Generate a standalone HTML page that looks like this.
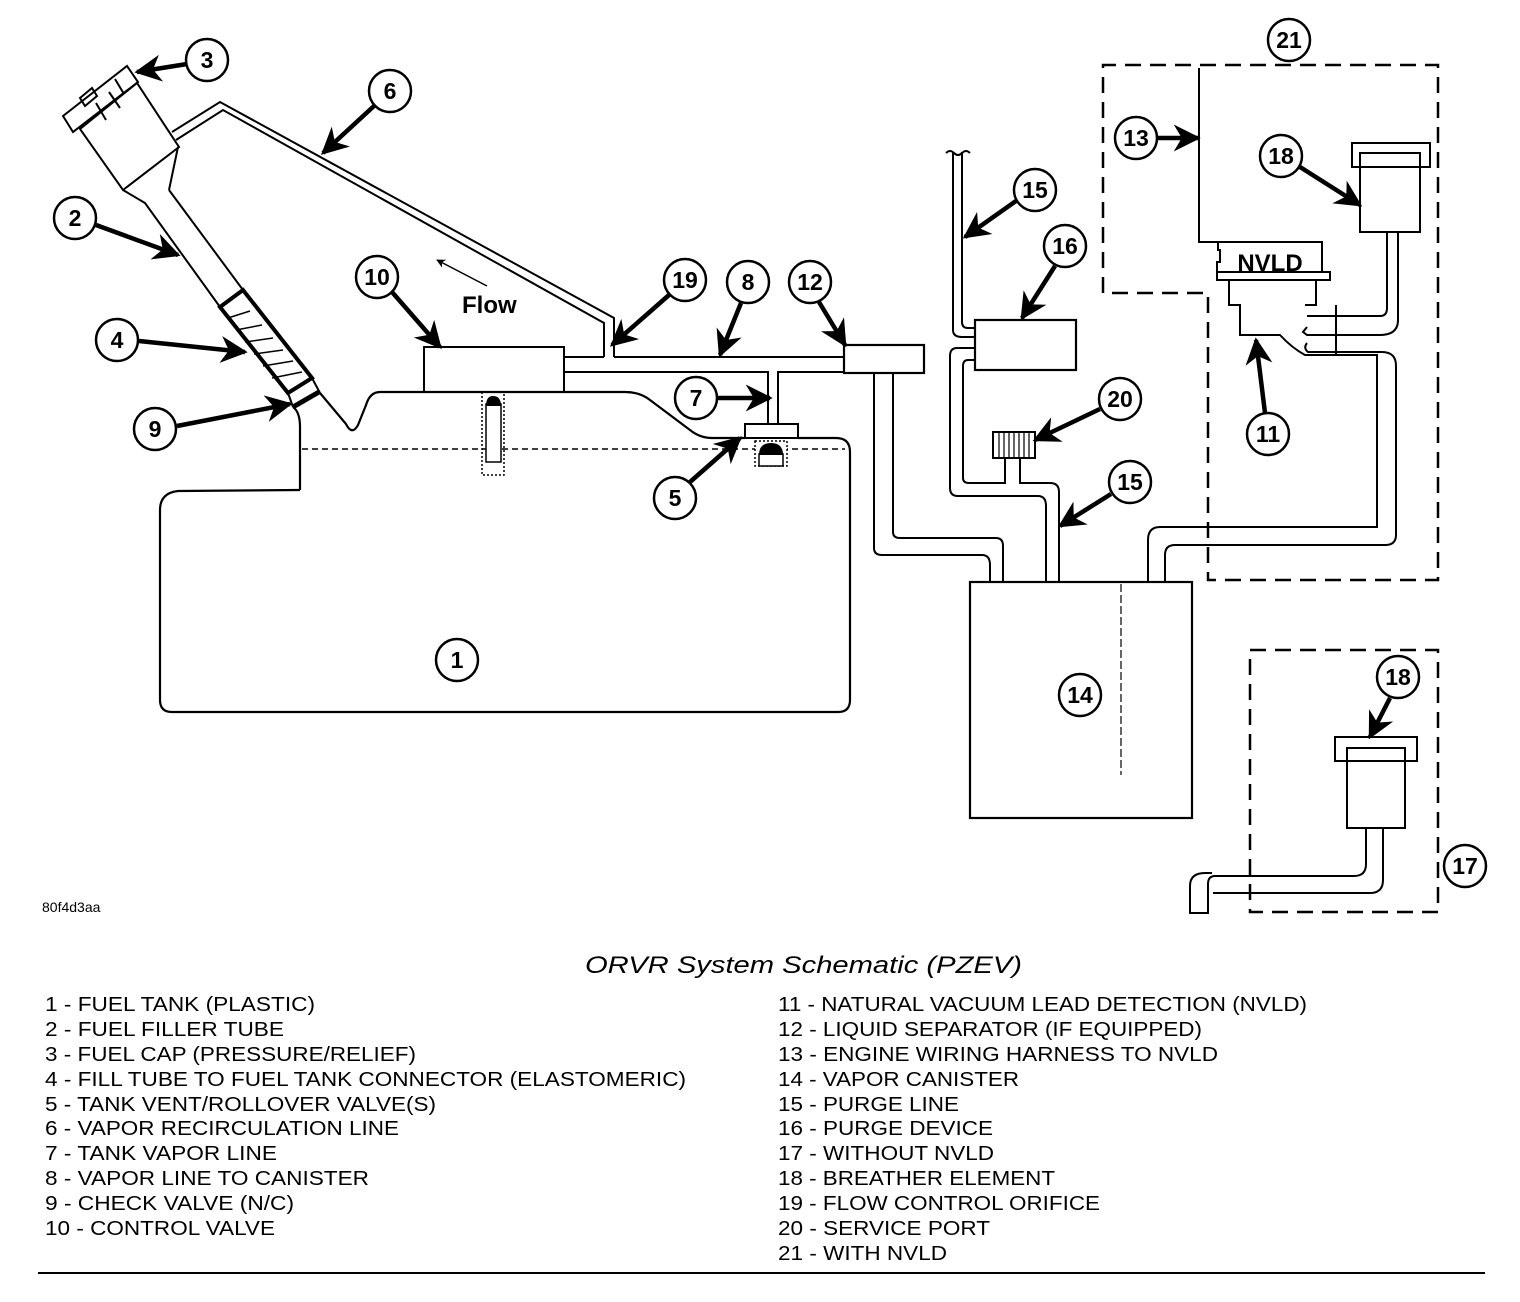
<!DOCTYPE html>
<html><head><meta charset="utf-8"><style>
html,body{margin:0;padding:0;background:#fff}
svg{display:block}
.c{fill:#fff;stroke:#000;stroke-width:2.5}
.n{font-family:"Liberation Sans",sans-serif;font-weight:bold;font-size:23px;text-anchor:middle}
.l{fill:none;stroke:#000;stroke-width:2.2}
.t{fill:none;stroke:#000;stroke-width:2}
.lg{font-family:"Liberation Sans",sans-serif;font-size:20px}
</style></head><body>
<svg width="1520" height="1302" viewBox="0 0 1520 1302" xmlns="http://www.w3.org/2000/svg">
<defs>
<marker id="a" viewBox="0 0 10 10" refX="9" refY="5" markerWidth="6" markerHeight="6" orient="auto" markerUnits="strokeWidth">
<path d="M0,0 L10,5 L0,10 L3,5 Z" fill="#000"/></marker>
</defs>
<rect width="1520" height="1302" fill="#fff"/>

<!-- Tank -->
<path class="l" d="M300,490 L300,427 Q300,412 293,407"/>
<path class="l" d="M300,490 L178,491 Q160,493 160,510 L160,700 Q160,712 172,712 L838,712 Q850,712 850,700 L850,452 Q850,438 836,438 L798,438"/>
<path class="l" d="M745,438 L712,438 Q700,438 690,430 L650,400 Q640,392 625,392 L380,392 Q370,392 366,405 L358,425 Q352,436 346,424 L320,393"/>
<line x1="302" y1="449" x2="845" y2="449" stroke="#000" stroke-width="1.5" stroke-dasharray="6,4"/>

<!-- filler neck -->
<polyline class="t" points="123,190 145,203 220,307"/>
<polyline class="t" points="169,190 178,147"/>
<polyline class="t" points="169,190 243,290"/>
<polyline class="t" points="312,378 320,393"/>
<polyline class="t" points="288,393 293,407"/>
<polygon points="220,307 243,290 312,378 288,393" fill="#fff" stroke="#000" stroke-width="4"/>
<g stroke="#000" stroke-width="1.5">
<line x1="228" y1="318" x2="250" y2="311"/><line x1="236" y1="330" x2="262" y2="325"/>
<line x1="245" y1="342" x2="273" y2="338"/><line x1="254" y1="354" x2="283" y2="350"/>
<line x1="263" y1="366" x2="293" y2="361"/><line x1="272" y1="378" x2="302" y2="372"/>
</g>
<line x1="293" y1="407" x2="319" y2="392" stroke="#000" stroke-width="5"/>
<polygon class="t" points="80,129 137,83 179,147 123,190" fill="#fff"/>
<polygon class="t" points="63,116 127,66 138,82 73,132" fill="#fff"/>
<polygon class="t" points="80,98 92,88 97,96 85,106" fill="#fff"/>
<line class="t" x1="96" y1="103" x2="106" y2="120"/><line class="t" x1="109" y1="92" x2="120" y2="108"/>
<line class="t" x1="115" y1="79" x2="124" y2="94"/>

<!-- recirculation line 6 -->
<polyline class="t" points="172,132 220,102 614,318 614,357"/>
<polyline class="t" points="176,140 223,110 604,323 604,357"/>

<rect class="t" x="424" y="347" width="140" height="45" fill="#fff"/>
<polyline class="t" points="564,357 604,357"/>
<polyline class="t" points="614,357 844,357"/>
<polyline class="t" points="564,372 768,372 768,424"/>
<polyline class="t" points="844,372 778,372 778,424"/>
<rect class="t" x="745" y="424" width="53" height="14" fill="#fff"/>
<rect x="755" y="441" width="32" height="25" fill="#fff" stroke="#000" stroke-width="1.5" stroke-dasharray="2,2"/>
<rect x="759" y="454" width="24" height="12" fill="#fff" stroke="#000" stroke-width="1.5"/>
<path d="M759,455 Q759,443 771,443 Q783,443 783,455 Z" fill="#000"/>
<rect x="482" y="392" width="22" height="83" fill="none" stroke="#000" stroke-width="1.5" stroke-dasharray="2,2"/>
<rect x="486" y="404" width="15" height="58" fill="#fff" stroke="#000" stroke-width="1.5"/>
<path d="M486,406 Q486,396 493,396 Q501,396 501,406 Z" fill="#000"/>
<rect class="l" x="844" y="345" width="80" height="28" fill="#fff"/>
<path class="t" d="M874,373 L874,548 Q874,555 882,555 L982,555 Q990,555 990,565 L990,582"/>
<path class="t" d="M893,373 L893,532 Q893,538 900,538 L996,538 Q1003,538 1003,546 L1003,582"/>

<rect class="l" x="970" y="582" width="222" height="236" fill="#fff"/>
<line x1="1121" y1="584" x2="1121" y2="775" stroke="#000" stroke-width="1.2" stroke-dasharray="8,3"/>

<path class="t" d="M953,152 L953,330 Q953,337 962,337 L975,337"/>
<path class="t" d="M962,152 L962,322 Q962,328 968,328 L975,328"/>
<path class="t" d="M946,153 q4,-4 8,0 q4,4 8,0 q4,-4 8,0"/>
<rect class="l" x="975" y="320" width="101" height="50" fill="#fff"/>
<path class="t" d="M975,348 L957,348 Q950,348 950,356 L950,488 Q950,496 958,496 L1038,496 Q1046,496 1046,506 L1046,582"/>
<path class="t" d="M975,360 L968,360 Q963,360 963,366 L963,478 Q963,483 969,483 L1005,483 L1005,458"/>
<path class="t" d="M1020,458 L1020,483 L1050,483 Q1059,483 1059,492 L1059,582"/>
<rect class="t" x="993" y="432" width="42" height="26" fill="#fff"/>
<g stroke="#000" stroke-width="1.2"><line x1="999" y1="432" x2="999" y2="458"/><line x1="1004" y1="432" x2="1004" y2="458"/><line x1="1009" y1="432" x2="1009" y2="458"/><line x1="1014" y1="432" x2="1014" y2="458"/><line x1="1019" y1="432" x2="1019" y2="458"/><line x1="1024" y1="432" x2="1024" y2="458"/><line x1="1029" y1="432" x2="1029" y2="458"/></g>

<polyline fill="none" stroke="#000" stroke-width="2.5" stroke-dasharray="16,9" points="1103,293 1103,65 1438,65 1438,580 1208,580 1208,293 1103,293"/>
<polyline class="t" points="1199,68 1199,242 1218,242"/>
<path class="t" d="M1218,242 L1322,242 L1322,272 L1217,272 L1217,262 L1220,262 L1220,250 L1218,250 Z" fill="#fff"/>
<text x="1270" y="271" font-family="Liberation Sans,sans-serif" font-weight="bold" font-size="24" text-anchor="middle">NVLD</text>
<rect class="t" x="1217" y="272" width="113" height="8" fill="#fff"/>
<path class="t" d="M1229,280 L1229,305 L1240,305 L1240,335 L1280,335 Q1292,348 1305,355 L1377,355 Q1377,355 1377,362 L1377,527 L1160,527 Q1148,527 1148,540 L1148,582"/>
<path class="t" d="M1316,280 L1316,305 L1305,305"/>
<path class="t" d="M1307,316 L1380,316 Q1387,316 1387,308 L1387,232"/>
<path class="t" d="M1307,327 L1303,332 L1307,335 L1380,335 Q1398,335 1398,320 L1398,232"/>
<path class="t" d="M1307,343 Q1303,348 1308,352 L1382,352 Q1396,352 1396,366 L1396,535 Q1396,545 1385,545 L1175,545 Q1165,545 1165,555 L1165,582"/>
<line class="t" x1="1336" y1="305" x2="1336" y2="355"/>
<rect class="t" x="1352" y="143" width="78" height="24" fill="#fff"/>
<rect class="t" x="1360" y="153" width="60" height="79" fill="#fff"/>

<rect x="1250" y="650" width="188" height="262" fill="none" stroke="#000" stroke-width="2.5" stroke-dasharray="16,9"/>
<path class="t" d="M1366,828 L1366,864 Q1366,876 1354,876 L1215,876 Q1208,876 1208,884 L1208,913 L1190,913 L1190,886 Q1190,873 1205,873"/>
<path class="t" d="M1383,828 L1383,880 Q1383,893 1370,893 L1213,893"/>
<path class="t" d="M1205,873 L1212,873" />
<rect class="t" x="1335" y="737" width="82" height="24" fill="#fff"/>
<rect class="t" x="1347" y="748" width="58" height="80" fill="#fff"/>

<line x1="487" y1="286" x2="437" y2="260" stroke="#000" stroke-width="1.5" marker-end="url(#a)"/>
<text x="462" y="313" font-family="Liberation Sans,sans-serif" font-weight="bold" font-size="24">Flow</text>

<g stroke="#000" stroke-width="4.5" marker-end="url(#a)">
<line x1="187" y1="64" x2="137" y2="72"/>
<line x1="374" y1="106" x2="323" y2="153"/>
<line x1="96" y1="225" x2="178" y2="255"/>
<line x1="139" y1="341" x2="245" y2="352"/>
<line x1="177" y1="426" x2="290" y2="404"/>
<line x1="392" y1="292" x2="440" y2="347"/>
<line x1="669" y1="295" x2="612" y2="345"/>
<line x1="741" y1="303" x2="720" y2="355"/>
<line x1="819" y1="302" x2="845" y2="345"/>
<line x1="718" y1="398" x2="770" y2="398"/>
<line x1="690" y1="482" x2="740" y2="438"/>
<line x1="1016" y1="201" x2="965" y2="237"/>
<line x1="1055" y1="266" x2="1022" y2="318"/>
<line x1="1100" y1="409" x2="1035" y2="440"/>
<line x1="1111" y1="494" x2="1060" y2="526"/>
<line x1="1158" y1="138" x2="1198" y2="138"/>
<line x1="1300" y1="167" x2="1360" y2="205"/>
<line x1="1265" y1="413" x2="1256" y2="340"/>
<line x1="1390" y1="698" x2="1370" y2="737"/>
</g>

<g>
<circle class="c" cx="207" cy="60" r="21"/><text class="n" x="207" y="68">3</text>
<circle class="c" cx="390" cy="91" r="21"/><text class="n" x="390" y="99">6</text>
<circle class="c" cx="75" cy="218" r="21"/><text class="n" x="75" y="226">2</text>
<circle class="c" cx="117" cy="340" r="21"/><text class="n" x="117" y="348">4</text>
<circle class="c" cx="155" cy="429" r="21"/><text class="n" x="155" y="437">9</text>
<circle class="c" cx="377" cy="277" r="21"/><text class="n" x="377" y="285">10</text>
<circle class="c" cx="685" cy="280" r="21"/><text class="n" x="685" y="288">19</text>
<circle class="c" cx="748" cy="282" r="21"/><text class="n" x="748" y="290">8</text>
<circle class="c" cx="810" cy="282" r="21"/><text class="n" x="810" y="290">12</text>
<circle class="c" cx="696" cy="398" r="21"/><text class="n" x="696" y="406">7</text>
<circle class="c" cx="675" cy="498" r="21"/><text class="n" x="675" y="506">5</text>
<circle class="c" cx="1035" cy="190" r="21"/><text class="n" x="1035" y="198">15</text>
<circle class="c" cx="1065" cy="246" r="21"/><text class="n" x="1065" y="254">16</text>
<circle class="c" cx="1120" cy="399" r="21"/><text class="n" x="1120" y="407">20</text>
<circle class="c" cx="1130" cy="482" r="21"/><text class="n" x="1130" y="490">15</text>
<circle class="c" cx="1136" cy="138" r="21"/><text class="n" x="1136" y="146">13</text>
<circle class="c" cx="1281" cy="156" r="21"/><text class="n" x="1281" y="164">18</text>
<circle class="c" cx="1268" cy="434" r="21"/><text class="n" x="1268" y="442">11</text>
<circle class="c" cx="1289" cy="40" r="21"/><text class="n" x="1289" y="48">21</text>
<circle class="c" cx="1398" cy="677" r="21"/><text class="n" x="1398" y="685">18</text>
<circle class="c" cx="1465" cy="866" r="21"/><text class="n" x="1465" y="874">17</text>
<circle class="c" cx="1080" cy="695" r="21"/><text class="n" x="1080" y="703">14</text>
<circle class="c" cx="457" cy="660" r="21"/><text class="n" x="457" y="668">1</text>
</g>

<text x="42" y="912" font-family="Liberation Sans,sans-serif" font-size="14">80f4d3aa</text>
<text x="585" y="973" font-family="Liberation Sans,sans-serif" font-style="italic" font-size="24" textLength="437" lengthAdjust="spacingAndGlyphs">ORVR System Schematic (PZEV)</text>

<g class="lg">
<text x="45" y="1011" textLength="270" lengthAdjust="spacingAndGlyphs">1 - FUEL TANK (PLASTIC)</text>
<text x="45" y="1036" textLength="239" lengthAdjust="spacingAndGlyphs">2 - FUEL FILLER TUBE</text>
<text x="45" y="1061" textLength="371" lengthAdjust="spacingAndGlyphs">3 - FUEL CAP (PRESSURE/RELIEF)</text>
<text x="45" y="1086" textLength="641" lengthAdjust="spacingAndGlyphs">4 - FILL TUBE TO FUEL TANK CONNECTOR (ELASTOMERIC)</text>
<text x="45" y="1111" textLength="391" lengthAdjust="spacingAndGlyphs">5 - TANK VENT/ROLLOVER VALVE(S)</text>
<text x="45" y="1135" textLength="354" lengthAdjust="spacingAndGlyphs">6 - VAPOR RECIRCULATION LINE</text>
<text x="45" y="1160" textLength="232" lengthAdjust="spacingAndGlyphs">7 - TANK VAPOR LINE</text>
<text x="45" y="1185" textLength="324" lengthAdjust="spacingAndGlyphs">8 - VAPOR LINE TO CANISTER</text>
<text x="45" y="1210" textLength="249" lengthAdjust="spacingAndGlyphs">9 - CHECK VALVE (N/C)</text>
<text x="45" y="1235" textLength="230" lengthAdjust="spacingAndGlyphs">10 - CONTROL VALVE</text>
<text x="778" y="1011" textLength="529" lengthAdjust="spacingAndGlyphs">11 - NATURAL VACUUM LEAD DETECTION (NVLD)</text>
<text x="778" y="1036" textLength="424" lengthAdjust="spacingAndGlyphs">12 - LIQUID SEPARATOR (IF EQUIPPED)</text>
<text x="778" y="1061" textLength="440" lengthAdjust="spacingAndGlyphs">13 - ENGINE WIRING HARNESS TO NVLD</text>
<text x="778" y="1086" textLength="241" lengthAdjust="spacingAndGlyphs">14 - VAPOR CANISTER</text>
<text x="778" y="1111" textLength="181" lengthAdjust="spacingAndGlyphs">15 - PURGE LINE</text>
<text x="778" y="1135" textLength="215" lengthAdjust="spacingAndGlyphs">16 - PURGE DEVICE</text>
<text x="778" y="1160" textLength="216" lengthAdjust="spacingAndGlyphs">17 - WITHOUT NVLD</text>
<text x="778" y="1185" textLength="277" lengthAdjust="spacingAndGlyphs">18 - BREATHER ELEMENT</text>
<text x="778" y="1210" textLength="322" lengthAdjust="spacingAndGlyphs">19 - FLOW CONTROL ORIFICE</text>
<text x="778" y="1235" textLength="212" lengthAdjust="spacingAndGlyphs">20 - SERVICE PORT</text>
<text x="778" y="1260" textLength="169" lengthAdjust="spacingAndGlyphs">21 - WITH NVLD</text>
</g>
<line x1="38" y1="1273" x2="1485" y2="1273" stroke="#000" stroke-width="2"/>
</svg>
</body></html>
